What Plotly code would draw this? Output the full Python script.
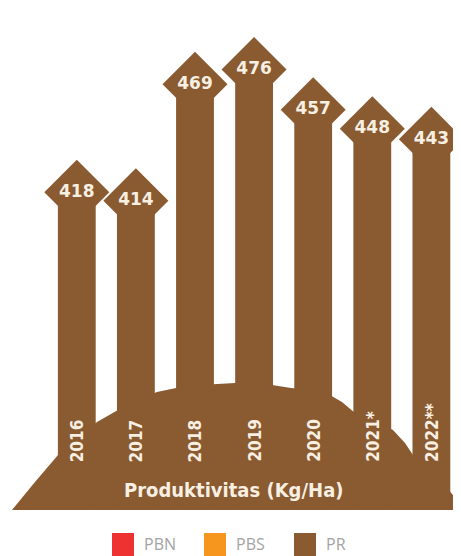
import plotly.graph_objects as go

# data
years = ['2016', '2017', '2018', '2019', '2020', '2021*', '2022**']
productivity = [418, 414, 469, 476, 457, 448, 443]
legend_names = ['PBN', 'PBS', 'PR']
legend_colors = ['#EE3131', '#F7961E', '#8A5A30']

BROWN = '#8A5A30'
CREAM = '#F7EFE2'
COND = 'DejaVu Sans Condensed, Roboto Condensed, Liberation Sans Narrow, DejaVu Sans'

# the page body has an 8px margin, so the figure sits at (8, 8) in the window
OFF = 8
W, H = 461 - OFF, 556 - OFF
PLOT_BOTTOM = 510          # window row of the plot-area bottom
PLOT_H = PLOT_BOTTOM - OFF


def py(p):
    # window row -> paper y
    return (PLOT_BOTTOM - p) / PLOT_H


def px(p):
    # window column -> paper x
    return (p - OFF) / W


fig = go.Figure()

fig.add_trace(go.Bar(
    x=years, y=productivity, width=0.64,
    marker=dict(color=BROWN, line=dict(width=0)),
    showlegend=False, hoverinfo='x+y'
))

# diamond heads with the values
fig.add_trace(go.Scatter(
    x=years, y=productivity, mode='markers+text',
    marker=dict(symbol='diamond', size=50, color=BROWN, line=dict(width=0)),
    text=[str(v) for v in productivity], textposition='middle center',
    textfont=dict(family='DejaVu Sans', size=17, color=CREAM, weight='bold'),
    cliponaxis=False, showlegend=False, hoverinfo='skip'
))

# dome at the foot of the bars
dome = [(12, 510), (35, 482), (58, 455), (80, 436), (97, 422), (118, 410),
        (140, 399), (157, 392), (176, 388), (200, 385), (235, 383), (255, 383),
        (272, 385), (291, 388), (310, 390), (328, 394), (342, 402), (355, 413),
        (375, 421), (393, 430), (405, 443), (413, 455), (440, 480), (453, 495),
        (453, 510)]
path = 'M ' + ' L '.join(f'{px(a):.4f},{py(b):.4f}' for a, b in dome) + ' Z'
shapes = [dict(type='path', path=path, xref='paper', yref='paper',
               fillcolor=BROWN, line=dict(width=0), layer='below')]

annotations = []
for i, yr in enumerate(years):
    annotations.append(dict(
        x=i, xref='x', y=py(464), yref='paper', yanchor='bottom',
        text=yr, textangle=-90, showarrow=False,
        font=dict(family=COND, size=17, color=CREAM, weight='bold')
    ))

annotations.append(dict(
    x=px(234), xref='paper', y=py(490), yref='paper', yanchor='middle',
    text='Produktivitas (Kg/Ha)', showarrow=False,
    font=dict(family=COND, size=20, color=CREAM, weight='bold')
))

# legend: large squares at the bottom
leg_x = [112, 204, 294]
for name, col, lx in zip(legend_names, legend_colors, leg_x):
    shapes.append(dict(type='rect', xref='paper', yref='paper',
                       x0=px(lx), x1=px(lx + 22), y0=py(560), y1=py(533),
                       fillcolor=col, line=dict(width=0)))
    annotations.append(dict(
        x=px(lx + 30), xref='paper', y=py(544), yref='paper',
        xanchor='left', yanchor='middle', text=name, showarrow=False,
        font=dict(family='Open Sans', size=16, color='#A3A3A3')
    ))

fig.update_layout(
    width=W, height=H,
    margin=dict(l=0, r=0, t=0, b=H - PLOT_H),
    paper_bgcolor='white', plot_bgcolor='white',
    xaxis=dict(type='category', range=[-1.164, 6.501], showticklabels=False,
               showgrid=False, zeroline=False, ticks=''),
    yaxis=dict(range=[268, 505], showticklabels=False, showgrid=False,
               zeroline=False, ticks=''),
    shapes=shapes, annotations=annotations,
    barmode='overlay', showlegend=False
)

fig.write_html("out.html")
